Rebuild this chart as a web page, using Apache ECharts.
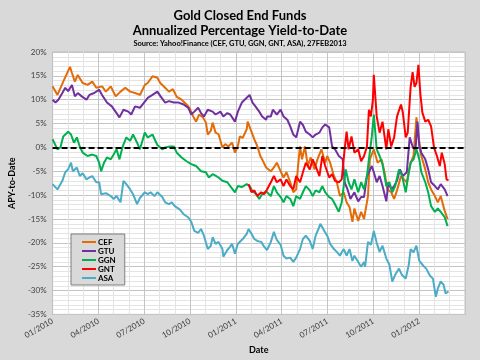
<!DOCTYPE html>
<html><head><meta charset="utf-8">
<script src="https://cdn.jsdelivr.net/npm/echarts@6/dist/echarts.min.js"></script>
<style>html,body{margin:0;padding:0;background:#d9d9d9}#c{width:480px;height:360px}</style>
</head><body><div id="c"></div>
<script>
// x values: months since 01/2010 (decimal); y values: APY in %
const seriesNames = ['CEF','GTU','GGN','GNT','ASA'];
const seriesColors = ['#E36C09','#7030A0','#00B050','#FF0000','#4BACC6'];

const cefT = [0.00,0.32,0.70,1.14,1.27,1.46,1.65,1.97,2.29,2.60,2.86,3.24,3.49,3.81,4.13,4.45,4.76,5.08,5.40,5.72,6.04,6.23,6.54,6.86,7.05,7.37,7.62,7.88,8.13,8.45,8.77,8.96,9.21,9.40,9.59,9.85,10.04,10.16,10.36,10.48,10.67,10.86,11.12,11.31,11.50,11.75,11.94,12.13,12.26,12.45,12.71,12.77,13.02,13.21,13.40,13.60,13.72,13.98,14.04,14.29,14.49,14.68,14.93,15.12,15.31,15.56,15.76,15.95,16.07,16.20,16.33,16.52,16.71,16.90,17.15,17.34,17.60,17.85,17.98,18.17,18.42,18.61,18.81,19.06,19.25,19.44,19.63,19.76,20.01,20.20,20.39,20.46,20.65,20.77,21.03,21.28,21.54,21.73,21.92,22.17,22.36,22.55,22.81,23.00,23.19,23.44,23.63,23.82,23.95,24.14,24.40,24.59,24.78,25.03,25.22,25.41,25.67,25.86];
const cefV = [12.8,11.0,13.8,16.9,15.6,13.8,15.2,13.5,13.1,13.8,12.5,12.8,11.7,12.8,10.7,11.7,12.5,11.7,11.4,11.0,13.1,13.5,14.9,14.6,13.5,12.5,11.7,12.2,10.6,10.0,9.0,8.3,6.5,5.4,6.9,6.3,5.2,2.7,3.5,5.2,3.1,2.8,0.0,0.7,0.2,1.0,-1.1,0.3,2.3,2.0,3.8,5.4,3.3,1.7,0.3,-1.8,-2.5,-4.2,-3.9,-5.0,-4.2,-3.2,-5.0,-6.3,-5.2,-7.3,-9.4,-8.8,-3.9,0.2,-2.5,0.2,-3.9,-2.1,-4.6,-2.5,-0.4,-3.2,-1.8,-3.2,-6.0,-7.3,-10.2,-9.4,-11.5,-12.5,-15.6,-12.8,-15.4,-13.5,-15.0,-15.0,-10.2,-2.5,-0.4,-3.2,-2.5,-5.2,-8.8,-9.4,-10.8,-9.0,-6.0,-6.7,-7.3,-3.2,-1.8,6.3,2.5,-1.8,-4.6,-7.3,-8.8,-10.2,-11.5,-10.2,-13.3,-15.0];

const gtuT = [0.00,0.19,0.38,0.64,0.83,1.02,1.27,1.46,1.65,1.91,2.22,2.41,2.73,3.05,3.24,3.56,3.88,4.19,4.38,4.64,4.96,5.15,5.40,5.72,6.04,6.23,6.54,6.86,7.05,7.37,7.62,7.94,8.26,8.58,8.89,9.08,9.28,9.53,9.72,9.91,10.16,10.48,10.67,10.99,11.18,11.44,11.63,11.94,12.13,12.39,12.71,12.90,13.09,13.28,13.53,13.72,13.98,14.04,14.29,14.42,14.68,14.93,15.12,15.37,15.56,15.76,15.95,16.20,16.39,16.58,16.84,17.03,17.22,17.47,17.66,17.85,18.11,18.30,18.49,18.74,19.00,19.12,19.31,19.50,19.76,20.01,20.20,20.39,20.58,20.71,20.90,21.03,21.22,21.41,21.60,21.85,21.98,22.17,22.36,22.55,22.74,22.93,23.19,23.38,23.57,23.76,23.89,24.01,24.14,24.40,24.59,24.78,25.03,25.22,25.41,25.67,25.86];
const gtuV = [10.0,9.4,10.0,11.4,12.5,11.8,13.1,10.7,11.4,10.7,10.0,11.0,11.4,12.1,11.0,9.4,8.6,7.2,6.3,7.9,7.5,6.9,8.6,8.3,9.6,10.4,11.0,11.7,10.8,9.4,9.7,9.4,9.4,9.0,8.3,6.9,7.5,8.3,7.2,6.5,7.9,7.5,6.9,7.5,6.5,7.2,6.9,5.4,7.5,9.4,10.4,11.0,9.4,8.6,7.5,6.5,5.8,6.5,6.5,7.9,6.9,7.9,6.5,5.8,4.4,2.7,2.1,5.4,4.7,3.3,2.7,2.1,2.7,3.1,4.2,4.8,4.2,0.2,-0.4,-1.8,-2.5,-7.3,-8.8,-10.8,-9.4,-11.3,-10.4,-10.4,-6.0,-6.3,-3.9,-5.2,-7.3,-6.0,-8.1,-11.3,-7.3,-8.8,-8.1,-7.0,-4.6,-6.0,-5.2,2.1,0.2,-0.4,5.4,0.2,-1.1,-2.5,-4.6,-7.3,-8.1,-8.8,-7.7,-8.8,-10.2];

const ggnT = [0.00,0.32,0.51,0.70,1.02,1.21,1.40,1.59,1.78,1.97,2.29,2.60,2.86,3.05,3.18,3.37,3.56,3.81,4.00,4.19,4.38,4.57,4.83,5.08,5.27,5.53,5.72,6.04,6.23,6.54,6.86,7.18,7.37,7.69,7.94,8.13,8.45,8.77,9.08,9.40,9.72,10.04,10.23,10.48,10.67,10.86,11.12,11.44,11.63,11.94,12.13,12.39,12.71,12.90,13.09,13.34,13.53,13.72,13.98,14.04,14.29,14.49,14.68,14.93,15.12,15.31,15.56,15.76,15.95,16.20,16.39,16.58,16.84,17.03,17.22,17.47,17.66,17.85,18.11,18.30,18.49,18.74,18.93,19.06,19.19,19.38,19.57,19.76,20.01,20.20,20.39,20.58,20.71,20.90,21.03,21.22,21.41,21.60,21.85,22.05,22.24,22.43,22.68,22.87,23.12,23.32,23.44,23.63,23.82,24.01,24.14,24.40,24.59,24.78,25.03,25.22,25.41,25.67,25.86];
const ggnV = [1.7,-0.4,0.0,2.3,3.3,2.7,1.0,2.1,0.2,-1.1,-1.8,-1.5,-1.8,-3.2,-5.0,-3.2,-2.1,-2.5,-1.5,-0.4,-2.5,0.0,2.1,1.4,2.7,1.0,-0.4,3.1,2.1,2.7,0.5,-0.4,0.0,0.2,0.2,-1.1,-2.1,-2.9,-3.5,-3.9,-5.0,-5.2,-6.3,-5.6,-5.9,-6.3,-7.0,-7.3,-8.1,-9.4,-8.1,-8.3,-7.7,-8.1,-9.2,-9.8,-10.8,-9.8,-9.2,-8.8,-10.2,-8.1,-9.4,-10.4,-11.5,-10.2,-10.8,-12.3,-10.2,-10.8,-9.4,-8.1,-9.0,-10.2,-9.0,-9.4,-8.1,-9.4,-10.4,-10.8,-11.9,-13.5,-11.5,-8.1,-4.6,-7.3,-8.8,-6.7,-9.4,-7.3,-8.8,-6.0,-2.5,2.3,6.9,-0.4,-1.8,-3.5,-8.1,-7.3,-9.4,-8.1,-4.6,-5.9,-9.4,-5.2,-3.2,-2.5,-0.4,-2.5,-5.2,-7.3,-9.4,-12.3,-13.5,-12.8,-13.5,-14.6,-16.5];

const gntT = [12.83,13.02,13.21,13.40,13.66,13.85,14.04,14.29,14.49,14.68,14.93,15.12,15.31,15.56,15.76,15.95,16.20,16.39,16.58,16.84,17.03,17.22,17.47,17.66,17.85,18.11,18.30,18.49,18.74,18.93,19.12,19.25,19.38,19.57,19.76,20.01,20.20,20.39,20.58,20.71,20.84,20.97,21.03,21.22,21.41,21.60,21.85,21.98,22.17,22.36,22.55,22.81,22.93,23.12,23.25,23.44,23.57,23.70,23.82,23.95,24.08,24.21,24.40,24.59,24.78,24.97,25.16,25.35,25.48,25.67,25.79,25.92];
const gntV = [-7.7,-9.4,-9.0,-10.2,-9.4,-9.8,-8.8,-7.3,-6.0,-7.3,-6.7,-8.1,-6.7,-8.1,-8.8,-6.0,-7.3,-5.2,-3.2,-4.6,-2.5,-3.9,-6.0,-1.8,-3.9,-6.3,-5.6,-7.0,-7.3,-6.7,-0.4,3.3,-0.4,2.3,-1.1,-0.4,-2.9,-1.8,0.2,7.9,6.5,10.0,15.2,6.5,3.1,5.4,-0.4,3.8,0.2,2.1,6.5,9.0,7.3,2.1,3.1,12.7,15.8,12.7,13.5,17.3,11.1,7.3,5.4,5.8,4.4,0.0,-1.8,-3.9,-1.1,-3.5,-6.7,-6.9];

const asaT = [0.00,0.32,0.64,0.83,1.02,1.21,1.33,1.59,1.78,1.97,2.22,2.41,2.60,2.86,3.05,3.18,3.49,3.81,4.00,4.19,4.45,4.64,4.83,5.08,5.27,5.53,5.72,6.04,6.23,6.42,6.67,6.86,7.18,7.37,7.62,7.81,8.00,8.32,8.58,8.89,9.08,9.28,9.53,9.72,9.91,10.16,10.36,10.48,10.67,10.86,11.12,11.18,11.44,11.63,11.75,11.94,12.13,12.26,12.45,12.71,12.83,13.02,13.21,13.40,13.66,13.85,14.04,14.29,14.49,14.68,14.93,15.12,15.31,15.56,15.76,15.95,16.20,16.39,16.58,16.84,17.03,17.22,17.41,17.53,17.79,17.98,18.17,18.42,18.61,18.81,19.06,19.25,19.44,19.63,19.76,20.01,20.20,20.39,20.46,20.65,20.84,21.03,21.22,21.41,21.60,21.85,22.05,22.24,22.43,22.68,22.87,23.12,23.32,23.44,23.63,23.82,24.01,24.27,24.46,24.71,24.90,25.09,25.22,25.41,25.60,25.73,25.92];
const asaV = [-7.7,-8.8,-7.0,-5.2,-4.6,-3.2,-5.0,-4.2,-6.0,-5.4,-6.7,-6.3,-6.0,-7.3,-7.3,-9.8,-9.6,-10.2,-10.8,-10.2,-11.5,-7.0,-7.7,-8.8,-9.8,-11.9,-10.6,-9.4,-9.8,-9.4,-10.2,-9.4,-10.4,-11.5,-11.9,-11.5,-12.3,-13.0,-14.0,-14.7,-15.6,-17.5,-17.9,-17.1,-18.5,-21.3,-20.6,-18.8,-20.2,-19.8,-21.3,-22.9,-21.5,-20.8,-20.2,-22.3,-20.2,-20.6,-19.2,-18.1,-17.1,-18.1,-19.2,-19.6,-19.8,-20.8,-21.5,-19.8,-17.7,-19.4,-20.4,-22.7,-23.3,-23.1,-24.0,-23.1,-21.3,-19.2,-18.5,-19.6,-21.3,-18.5,-17.1,-16.0,-17.5,-18.5,-20.2,-21.3,-21.9,-22.7,-21.3,-22.7,-21.3,-23.8,-22.7,-24.0,-25.0,-24.0,-25.0,-19.8,-20.4,-17.5,-20.0,-21.9,-20.6,-23.3,-24.6,-28.1,-26.7,-25.4,-26.7,-27.5,-24.6,-21.3,-22.0,-20.6,-23.8,-24.8,-25.4,-26.9,-27.5,-31.3,-29.6,-28.1,-28.8,-30.6,-30.2];

const yTicks = {min: -35, max: 20, step: 5};
const xTicks = {min: 0, max: 27, step: 3};
const startYear = 2010;

const allT = [cefT, gtuT, ggnT, gntT, asaT];
const allV = [cefV, gtuV, ggnV, gntV, asaV];

const font = 'Lato, "Liberation Sans", sans-serif';
const chart = echarts.init(document.getElementById('c'), null, {renderer: 'canvas'});

const series = seriesNames.map((n, i) => {
  const s = {
    name: n, type: 'line', showSymbol: false, symbol: 'none',
    data: allT[i].map((t, k) => [t, allV[i][k]]),
    lineStyle: {width: 2, color: seriesColors[i]},
    itemStyle: {color: seriesColors[i]},
    animation: false
  };
  if (i === seriesNames.length - 1) {
    s.markLine = {
      silent: true, symbol: ['none', 'none'], animation: false,
      label: {show: false},
      lineStyle: {color: '#000', type: [6, 3], width: 2},
      data: [{yAxis: 0}]
    };
  }
  return s;
});

chart.setOption({
  backgroundColor: '#d9d9d9',
  animation: false,
  textStyle: {fontFamily: font},
  title: [
    {text: 'Gold Closed End Funds\nAnnualized Percentage Yield-to-Date', left: 'center', top: 4,
     textStyle: {fontFamily: font, fontSize: 13, fontWeight: 'bold', color: '#000', lineHeight: 14.5}},
    {text: 'Source: Yahoo!Finance (CEF, GTU, GGN, GNT, ASA), 27FEB2013', left: 'center', top: 35,
     textStyle: {fontFamily: font, fontSize: 7.5, fontWeight: 'bold', color: '#000'}}
  ],
  legend: {
    orient: 'vertical', left: 71, top: 234,
    backgroundColor: '#d9d9d9', borderColor: '#7f7f7f', borderWidth: 1,
    padding: [4, 9, 3, 11], itemGap: 1, itemWidth: 14, itemHeight: 2, icon: 'rect',
    textStyle: {fontFamily: font, fontSize: 8, fontWeight: 'bold', color: '#000', padding: [0,0,0,-3]},
    data: seriesNames
  },
  grid: {left: 40, right: 15, top: 52, bottom: 44, show: true, backgroundColor: '#fff', borderColor: '#bfbfbf', borderWidth: 1},
  xAxis: {
    type: 'value', min: xTicks.min, max: xTicks.max, interval: xTicks.step,
    name: 'Date', nameLocation: 'middle', nameGap: 29,
    nameTextStyle: {fontFamily: font, fontSize: 9, fontWeight: 'bold', color: '#000'},
    axisLine: {show: true, lineStyle: {color: '#bfbfbf'}},
    axisTick: {show: false},
    axisLabel: {
      rotate: 30, fontSize: 8, color: '#404040', fontFamily: font, showMaxLabel: false, margin: 6,
      formatter: v => { const m = Math.round(v) % 12 + 1; const y = startYear + Math.floor(Math.round(v) / 12); return (m < 10 ? '0' : '') + m + '/' + y; }
    },
    splitLine: {show: true, lineStyle: {color: '#c4c4c4', width: 1}},
    minorTick: {show: false, splitNumber: 3},
    minorSplitLine: {show: true, lineStyle: {color: '#e4e4e4', width: 1}}
  },
  yAxis: {
    type: 'value', min: yTicks.min, max: yTicks.max, interval: yTicks.step,
    name: 'APY-to-Date', nameLocation: 'middle', nameGap: 23, nameRotate: 90,
    nameTextStyle: {fontFamily: font, fontSize: 9, fontWeight: 'bold', color: '#000'},
    axisLine: {show: true, lineStyle: {color: '#bfbfbf'}},
    axisTick: {show: false},
    axisLabel: {fontSize: 8, color: '#404040', fontFamily: font, formatter: '{value}%', margin: 6},
    splitLine: {show: true, lineStyle: {color: '#c4c4c4', width: 1}},
    minorTick: {show: false, splitNumber: 5},
    minorSplitLine: {show: true, lineStyle: {color: '#e4e4e4', width: 1}}
  },
  series: series
});
</script></body></html>
